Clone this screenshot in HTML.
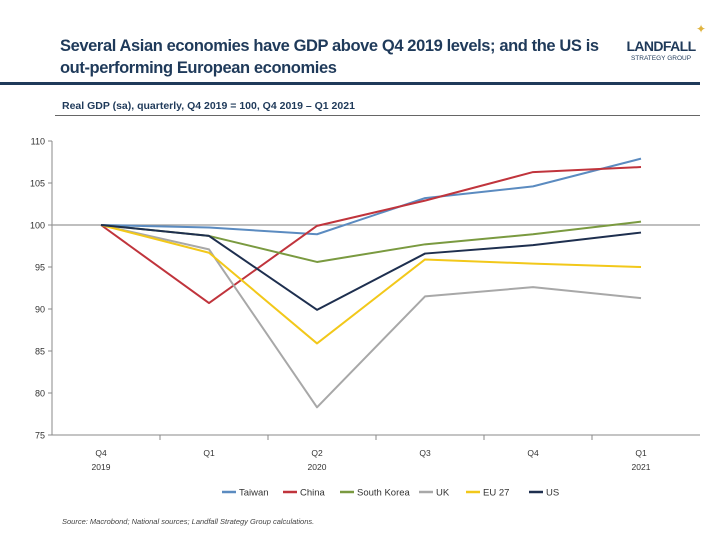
<!DOCTYPE html>
<html><head><meta charset="utf-8"><style>
body{margin:0;width:720px;height:540px;background:#fff;font-family:"Liberation Sans",sans-serif;overflow:hidden;position:relative}
.t{position:absolute;left:60px;top:35px;font-size:16.5px;font-weight:bold;color:#1f3a5a;line-height:22px;letter-spacing:-0.4px}
</style></head><body>
<div class="t">Several Asian economies have GDP above Q4 2019 levels; and the US is<br>out-performing European economies</div>
<div style="position:absolute;left:622px;top:38px;width:78px;color:#1f3a5a;text-align:center">
<div style="font-size:14px;font-weight:bold;letter-spacing:-0.6px">LANDFALL</div>
<div style="font-size:6.5px;margin-top:1px">STRATEGY GROUP</div>
<div style="position:absolute;left:74px;top:-16px;color:#e0b440;font-size:12px">✦</div></div>
<div style="position:absolute;left:0;top:82px;width:700px;height:3px;background:#1f3a5a"></div>
<div style="position:absolute;left:62px;top:100px;font-size:10.5px;font-weight:bold;color:#1f3a5a">Real GDP (sa), quarterly, Q4 2019 = 100, Q4 2019 – Q1 2021</div>
<div style="position:absolute;left:55px;top:115px;width:645px;height:1px;background:#666"></div>
<svg id="c" width="720" height="540" style="position:absolute;left:0;top:0"></svg>
<div style="position:absolute;left:62px;top:517px;font-size:7.5px;font-style:italic;color:#444">Source: Macrobond;  National sources; Landfall Strategy Group calculations.</div>
<script>
const categories=["Q4","Q1","Q2","Q3","Q4","Q1"];
const years=["2019","","2020","","","2021"];
const yTicks=[75,80,85,90,95,100,105,110];
const seriesNames=["Taiwan","China","South Korea","UK","EU 27","US"];
const seriesColors=["#5b8bc0","#c0343c","#7a9a40","#a8a8a8","#f2c81a","#1e2f4f"];
const taiwan=[100,99.7,98.9,103.2,104.6,107.9];
const china=[100,90.7,99.9,102.9,106.3,106.9];
const southKorea=[100,98.7,95.6,97.7,98.9,100.4];
const uk=[100,97.1,78.3,91.5,92.6,91.3];
const eu27=[100,96.7,85.9,95.9,95.4,95.0];
const us=[100,98.7,89.9,96.6,97.6,99.1];
const seriesData=[taiwan,china,southKorea,uk,eu27,us];
const svg=document.getElementById('c');const NS="http://www.w3.org/2000/svg";
const L=52,R=700,T=141,B=435,ymin=75,ymax=110;
const step=(R-L)/categories.length;
const x=i=>L+step*(i+0.5)-5;
const y=v=>B-(v-ymin)/(ymax-ymin)*(B-T);
function mk(t,a,p){const e=document.createElementNS(NS,t);for(const k in a)e.setAttribute(k,a[k]);(p||svg).appendChild(e);return e;}
yTicks.forEach(v=>{const t=mk('text',{x:L-7,y:y(v)+3.5,'text-anchor':'end','font-size':9,fill:'#333'});t.textContent=v;


mk('line',{x1:L-4,x2:L,y1:y(v),y2:y(v),stroke:'#888'});});
const yax=mk('line',{x1:L,x2:L,y1:T,y2:B,stroke:'#888'});


const ref=mk('line',{x1:L,x2:R,y1:y(100),y2:y(100),stroke:'#999','stroke-width':1.3});


const xax=mk('line',{x1:L,x2:R,y1:B,y2:B,stroke:'#888'});


for(let i=1;i<categories.length;i++){mk('line',{x1:L+step*i,x2:L+step*i,y1:B,y2:B+5,stroke:'#888'});}
categories.forEach((c,i)=>{const t=mk('text',{x:x(i),y:456,'text-anchor':'middle','font-size':8.5,fill:'#333'});t.textContent=c;


if(years[i]){const u=mk('text',{x:x(i),y:470,'text-anchor':'middle','font-size':8.5,fill:'#333'});u.textContent=years[i];

}});
seriesData.forEach((d,s)=>{const p=mk('polyline',{points:d.map((v,i)=>x(i)+','+y(v)).join(' '),fill:'none',stroke:seriesColors[s],'stroke-width':2,'stroke-linejoin':'round'});

});
const widths=[44,40,62,30,46,26];let lx=222;
seriesNames.forEach((n,s)=>{const g=mk('g',{});


mk('line',{x1:lx,x2:lx+14,y1:492,y2:492,stroke:seriesColors[s],'stroke-width':2.5},g);
const t=mk('text',{x:lx+17,y:495.5,'font-size':9.5,fill:'#333'},g);t.textContent=n;lx+=widths[s]+17;});
</script>
</body></html>
